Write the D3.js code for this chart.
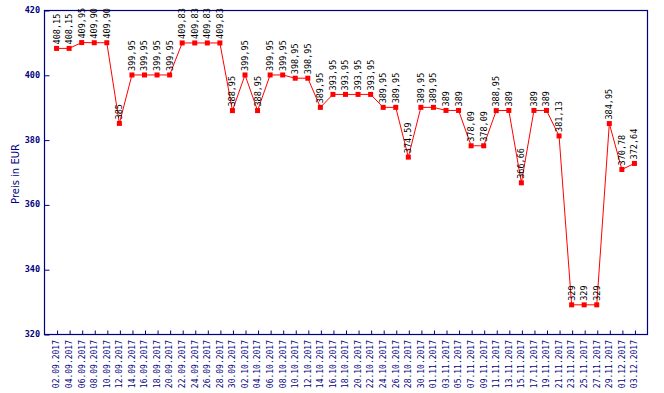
<!DOCTYPE html>
<html>
  <head>
    <style>
      body { margin: 0; background: #fff; }
      svg { display: block; }
    </style>
  </head>
<body>
  <div id="chart"></div>
  <script src="https://d3js.org/d3.v7.min.js"></script>
  <script>
    var dates = ["02.09.2017","04.09.2017","06.09.2017","08.09.2017","10.09.2017","12.09.2017",
      "14.09.2017","16.09.2017","18.09.2017","20.09.2017","22.09.2017","24.09.2017","26.09.2017",
      "28.09.2017","30.09.2017","02.10.2017","04.10.2017","06.10.2017","08.10.2017","10.10.2017",
      "12.10.2017","14.10.2017","16.10.2017","18.10.2017","20.10.2017","22.10.2017","24.10.2017",
      "26.10.2017","28.10.2017","30.10.2017","01.11.2017","03.11.2017","05.11.2017","07.11.2017",
      "09.11.2017","11.11.2017","13.11.2017","15.11.2017","17.11.2017","19.11.2017","21.11.2017",
      "23.11.2017","25.11.2017","27.11.2017","29.11.2017","01.12.2017","03.12.2017"];

    var prices = [408.15,408.15,409.95,409.90,409.90,385,
      399.95,399.95,399.95,399.95,409.83,409.83,409.83,
      409.83,388.95,399.95,388.95,399.95,399.95,398.95,
      398.95,389.95,393.95,393.95,393.95,393.95,389.95,
      389.95,374.59,389.95,389.95,389,389,378.09,
      378.09,388.95,389,366.66,389,389,381.13,
      329,329,329,384.95,370.78,372.64];

    var yTicks = [320, 340, 360, 380, 400, 420];

    var data = dates.map(function(d, i) { return {date: d, price: prices[i]}; });

    var W = 664, H = 393;
    var pLeft = 44, pRight = 647, pTop = 10, pBottom = 334;
    var navy = "#000080";

    var svg = d3.select("#chart").append("svg")
      .attr("width", W)
      .attr("height", H);

    var x = d3.scalePoint()
      .domain(dates)
      .range([pLeft, pRight])
      .padding(1);

    var y = d3.scaleLinear()
      .domain([320, 420])
      .range([pBottom, pTop]);

    function fmt(v) {
      if (Math.round(v) === v) return String(v);
      return v.toFixed(2).replace(".", ",");
    }

    // frame
    svg.append("rect")
      .attr("x", pLeft + 0.5)
      .attr("y", pTop + 0.5)
      .attr("width", pRight - pLeft)
      .attr("height", pBottom - pTop)
      .attr("fill", "none")
      .attr("stroke", navy)
      .attr("stroke-width", 1.2);

    // y axis, ticks inside
    var yAxis = svg.append("g")
      .attr("transform", "translate(" + (pLeft + 0.5) + ",0.5)")
      .call(d3.axisRight(y).tickValues(yTicks).tickSize(5).tickFormat(""));
    yAxis.select(".domain").remove();
    yAxis.selectAll("line").attr("stroke", navy);

    svg.append("g").selectAll("text")
      .data(yTicks)
      .enter()
      .append("text")
        .attr("x", pLeft - 4)
        .attr("y", function(d) { return y(d); })
        .attr("dy", "0.35em")
        .attr("text-anchor", "end")
        .attr("fill", navy)
        .style("font-family", "DejaVu Sans Mono")
        .style("font-size", "8.5px")
        .style("font-weight", "bold")
        .text(function(d) { return d; });

    // x axis, ticks inside
    var xAxis = svg.append("g")
      .attr("transform", "translate(0.5," + (pBottom + 0.5) + ")")
      .call(d3.axisTop(x).tickSize(4).tickFormat(""));
    xAxis.select(".domain").remove();
    xAxis.selectAll("line").attr("stroke", navy);

    svg.append("g").selectAll("text")
      .data(dates)
      .enter()
      .append("text")
        .attr("transform", function(d) {
          return "translate(" + x(d) + "," + (pBottom + 6) + ") rotate(-90)";
        })
        .attr("dy", "0.35em")
        .attr("text-anchor", "end")
        .attr("fill", navy)
        .style("font-family", "DejaVu Sans Mono")
        .style("font-size", "8px")
        .text(function(d) { return d; });

    svg.append("text")
      .attr("transform", "translate(15," + ((pTop + pBottom) / 2 + 2) + ") rotate(-90)")
      .attr("dy", "0.35em")
      .attr("text-anchor", "middle")
      .attr("fill", navy)
      .style("font-family", "DejaVu Sans")
      .style("font-size", "10px")
      .text("Preis in EUR");

    // line
    var line = d3.line()
      .x(function(d) { return x(d.date); })
      .y(function(d) { return y(d.price); });

    svg.append("path")
      .datum(data)
      .attr("d", line)
      .attr("fill", "none")
      .attr("stroke", "#ff0000")
      .attr("stroke-width", 1);

    svg.append("g").selectAll("rect")
      .data(data)
      .enter()
      .append("rect")
        .attr("x", function(d) { return x(d.date) - 2.5; })
        .attr("y", function(d) { return y(d.price) - 2.5; })
        .attr("width", 5)
        .attr("height", 5)
        .attr("fill", "#ff0000");

    svg.append("g").selectAll("text")
      .data(data)
      .enter()
      .append("text")
        .attr("transform", function(d) {
          return "translate(" + x(d.date) + "," + (y(d.price) - 4) + ") rotate(-90)";
        })
        .attr("dy", "0.35em")
        .attr("text-anchor", "start")
        .attr("fill", "#000")
        .style("font-family", "DejaVu Sans Mono")
        .style("font-size", "8.5px")
        .text(function(d) { return fmt(d.price); });
  </script>
</body>
</html>
